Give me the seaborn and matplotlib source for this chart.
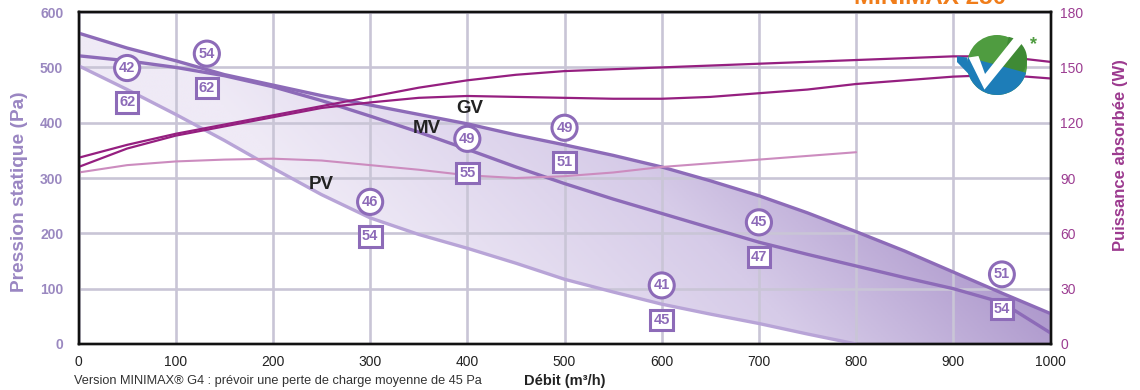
import numpy as np
import pandas as pd
import matplotlib
matplotlib.use("Agg")
import matplotlib.pyplot as plt
import seaborn as sns
from matplotlib.patches import Circle, Wedge, Polygon
from matplotlib.colors import LinearSegmentedColormap

# --- data ---
debit = [0, 50, 100, 150, 200, 250, 300, 350, 400, 450, 500,
         550, 600, 650, 700, 750, 800, 850, 900, 950, 1000]
pression_gv = [562, 535, 512, 487, 468, 449, 432, 415, 398, 378, 360,
               341, 320, 295, 268, 237, 203, 168, 130, 92, 55]
pression_mv = [521, 512, 500, 485, 465, 440, 412, 383, 352, 320, 290,
               262, 236, 210, 184, 162, 141, 120, 100, 75, 20]
debit_pv = [0, 50, 100, 150, 200, 250, 300, 350, 400, 450, 500,
            550, 600, 650, 700, 750, 800]
pression_pv = [503, 460, 415, 368, 318, 270, 228, 198, 173, 146, 117,
               94, 72, 54, 37, 18, 0]

puissance_gv = [101, 108, 114, 119, 124, 129, 134, 139, 143, 146, 148,
                149, 150, 151, 152, 153, 154, 155, 156, 156, 153]
puissance_mv = [96, 106, 113, 118, 123, 128, 131, 133.5, 134.5, 134, 133.5,
                133, 133, 134, 136, 138, 141, 143, 145, 146, 144]
puissance_pv = [93, 97, 99, 100, 100.5, 99.5, 97, 94.5, 91.5, 90, 91,
                93, 96, 98, 100, 102, 104]

# operating points: acoustic values (circle) and (square)
point_debit = [50, 132, 300, 400, 500, 600, 700, 950]
point_pression = [468, 494, 226, 340, 360, 75, 189, 95]
valeur_rond = [42, 54, 46, 49, 49, 41, 45, 51]
valeur_carre = [62, 62, 54, 55, 51, 45, 47, 54]

x_ticks = list(range(0, 1001, 100))
y_ticks = list(range(0, 601, 100))
w_ticks = list(range(0, 181, 30))

# --- styling ---
sns.set_theme(style="white")
plt.rcParams["font.family"] = ["Liberation Sans", "DejaVu Sans"]

violet = "#8d6bb8"
violet_clair = "#b8a4d7"
magenta = "#951f80"
rose = "#cc8cbf"
lavande = "#9a88c0"

fig = plt.figure(figsize=(11.4, 3.9), dpi=100)
ax = fig.add_axes([0.0689, 0.118, 0.8526, 0.851])

# gradient band between GV and PV (PV is off the axis beyond 800)
fond = pd.DataFrame({"debit": debit, "haut": pression_gv,
                     "bas": pression_pv + [0, 0, 0, 0]})
band = ax.fill_between(fond["debit"], fond["haut"], fond["bas"],
                       facecolor="none", edgecolor="none")
xx, yy = np.meshgrid(np.linspace(0, 1, 400), np.linspace(0, 1, 400))
u = np.clip((xx * 971 + yy * 331 - 380) / 700, 0, 1)
cmap = LinearSegmentedColormap.from_list("band", ["#efeaf6", "#d6cbe8", "#a38bc5"])
im = ax.imshow(u, extent=[0, 1000, 0, 600], origin="lower", cmap=cmap,
               vmin=0, vmax=1, aspect="auto", zorder=1, interpolation="bilinear")
im.set_clip_path(band.get_paths()[0], transform=ax.transData)

sns.lineplot(x=debit, y=pression_gv, ax=ax, color=violet, linewidth=2.4, zorder=3)
sns.lineplot(x=debit, y=pression_mv, ax=ax, color=violet, linewidth=2.4, zorder=3)
sns.lineplot(x=debit_pv, y=pression_pv, ax=ax, color=violet_clair, linewidth=2.4, zorder=3)

for lab, lx, ly in [("GV", 403, 425), ("MV", 358, 389), ("PV", 250, 289)]:
    ax.text(lx, ly, lab, fontsize=13.5, weight="bold", color="#222222",
            ha="center", va="center", zorder=4)

ax.set_xlim(0, 1000)
ax.set_ylim(0, 600)
ax.set_xticks(x_ticks)
ax.set_yticks(y_ticks)
ax.set_axisbelow("line")
ax.grid(True, color="#c9c5d6", linewidth=1.9)
ax.tick_params(length=0)
ax.tick_params(axis="y", pad=11, labelsize=10, labelcolor=lavande)
ax.tick_params(axis="x", pad=8, labelsize=10, labelcolor="#222222")
for t in ax.get_yticklabels():
    t.set_fontweight("bold")
ax.set_ylabel("Pression statique (Pa)", fontsize=13.8, weight="bold", color="#9a86c2",
              va="center")
ax.yaxis.set_label_coords(-0.061, 0.46)
ax.set_xlabel("Débit (m³/h)", fontsize=10.5, weight="bold", color="#222222", va="center")
ax.xaxis.set_label_coords(0.5, -0.112)

# absorbed power on the right axis
ax2 = ax.twinx()
sns.lineplot(x=debit, y=puissance_gv, ax=ax2, color=magenta, linewidth=1.6, zorder=2)
sns.lineplot(x=debit, y=puissance_mv, ax=ax2, color=magenta, linewidth=1.6, zorder=2)
sns.lineplot(x=debit_pv, y=puissance_pv, ax=ax2, color=rose, linewidth=1.5, zorder=2)
ax2.set_ylim(0, 180)
ax2.set_yticks(w_ticks)
ax2.tick_params(length=0, pad=7, labelsize=10, labelcolor="#9c3d92")
ax2.set_ylabel("Puissance absorbée (W)", fontsize=12, weight="bold", color="#9c3a8f",
               rotation=90, va="center")
ax2.yaxis.set_label_coords(1.072, 0.57)

for a in (ax, ax2):
    for s in a.spines.values():
        s.set_visible(True)
        s.set_color("#111111")
        s.set_linewidth(1.7)

# acoustic markers
for x, p, r, c in zip(point_debit, point_pression, valeur_rond, valeur_carre):
    ax2.annotate(str(r), xy=(x, p), xycoords=ax.transData, xytext=(0, 12.3),
                 textcoords="offset points", ha="center", va="center",
                 fontsize=10.5, weight="bold", color=violet, zorder=6,
                 bbox=dict(boxstyle="circle,pad=0.3", fc="white", ec=violet, lw=2.2))
    ax2.annotate(str(c), xy=(x, p), xycoords=ax.transData, xytext=(0, -12.5),
                 textcoords="offset points", ha="center", va="center",
                 fontsize=10.5, weight="bold", color=violet, zorder=6,
                 bbox=dict(boxstyle="square,pad=0.22", fc="white", ec=violet, lw=2.2))

# logo
logo = fig.add_axes([0.8395, 0.7308, 0.0702, 0.2051])
logo.set_xlim(-1.333, 1.333)
logo.set_ylim(-1.333, 1.333)
logo.set_aspect("equal")
logo.axis("off")
logo.add_patch(Circle((0, 0), 1, fc="#4f9c40", ec="none"))
logo.add_patch(Wedge((0.25, 0.2), 0.75, 200, 80, fc="#3f8a35", ec="none"))
logo.add_patch(Wedge((0, 0), 1, 165, 345, fc="#1d7db8", ec="none"))
logo.add_patch(Polygon([(-1.0, 0.25), (-1.55, 0.32), (-0.9, -0.35)], fc="#1d7db8", ec="none"))
logo.add_patch(Polygon([(-0.95, 0.25), (-0.62, 0.3), (-0.4, -0.3), (0.62, 0.98),
                        (0.88, 0.78), (-0.42, -0.82)], fc="white", ec="none"))
fig.text(1033 / 1140, 1 - 45 / 390, "*", fontsize=13, weight="bold", color="#4f9c40",
         ha="center", va="center")

# title (cut by the top edge, as in the original) and footnote
fig.text(930 / 1140, 1 - 3.5 / 390, "MINIMAX 250", fontsize=17.5, weight="bold",
         color="#f07d1a", ha="center", va="baseline")
fig.text(74 / 1140, 1 - 381 / 390,
         "Version MINIMAX® G4 : prévoir une perte de charge moyenne de 45 Pa",
         fontsize=9.2, color="#333333", ha="left", va="center")

fig.savefig("out.png", dpi=100)
